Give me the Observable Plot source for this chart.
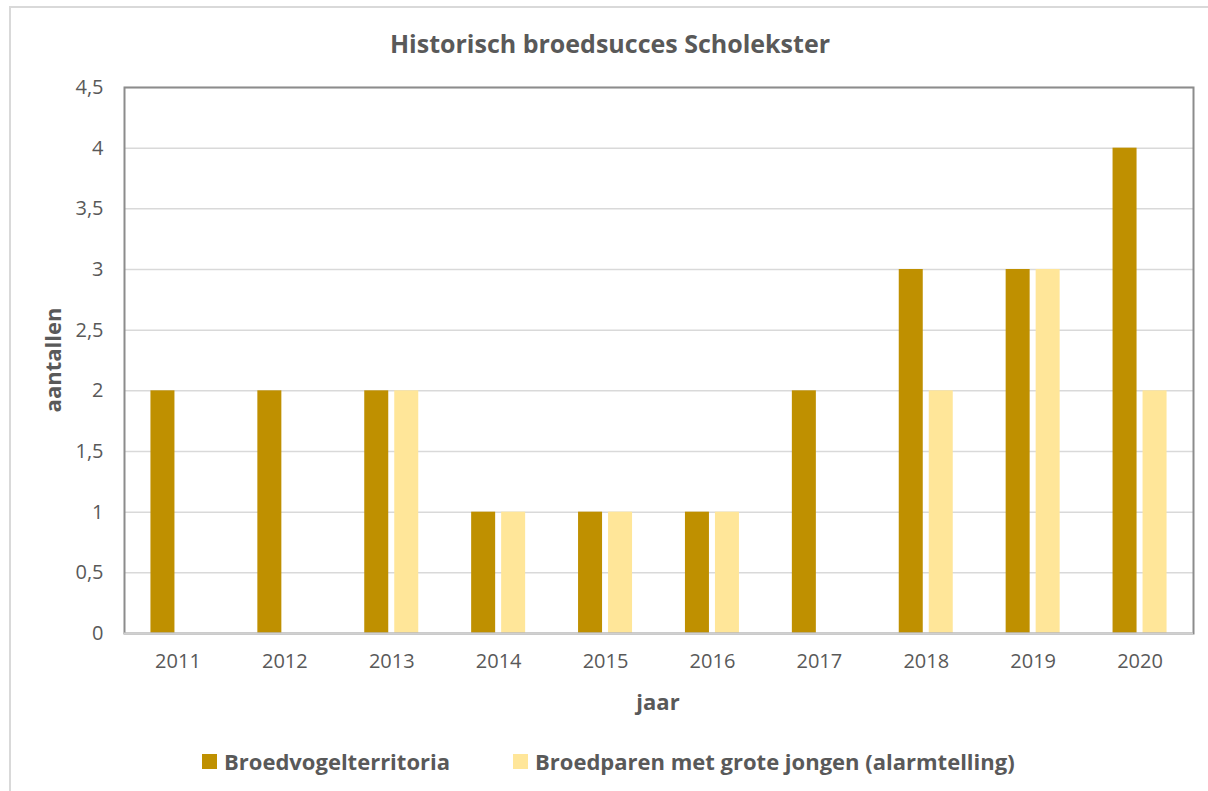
<!DOCTYPE html>
<html>
<head>
<meta charset="utf-8">
<script src="https://cdn.jsdelivr.net/npm/d3@7"></script>
<script src="https://cdn.jsdelivr.net/npm/@observablehq/plot@0.6"></script>
<style>
  html, body { margin: 0; padding: 0; background: #fff; overflow: hidden; }
  body { width: 1208px; height: 791px; position: relative; font-family: "Open Sans", Lato, sans-serif; color: #595959; }
  #box { position: absolute; left: 9px; top: 6px; width: 1220px; height: 800px; border: 2px solid #d9d9d9; box-sizing: border-box; }
  #title { position: absolute; left: 0; width: 1220px; top: 28px; text-align: center; font-weight: bold; font-size: 25px; line-height: 30px; color: #595959; }
  #chart { position: absolute; left: 0; top: 60px; }
  #ylab { position: absolute; left: 52px; top: 360px; transform: translate(-50%, -50%) rotate(-90deg); font-weight: bold; font-size: 22px; white-space: nowrap; }
  #xlab { position: absolute; left: 658px; top: 701px; transform: translate(-50%, -50%); font-weight: bold; font-size: 22px; }
  #legend { position: absolute; top: 747px; left: 202px; display: flex; align-items: center; font-weight: bold; font-size: 22px; line-height: 28px; }
  .sw { display: inline-block; width: 15px; height: 15px; margin-right: 7px; }
  .item { display: flex; align-items: center; }
</style>
</head>
<body>
<div id="box"></div>
<div id="title"></div>
<div id="chart"></div>
<div id="ylab"></div>
<div id="xlab"></div>
<div id="legend"></div>
<script>
const years = ["2011","2012","2013","2014","2015","2016","2017","2018","2019","2020"];
const seriesNames = ["Broedvogelterritoria", "Broedparen met grote jongen (alarmtelling)"];
const territoria = [2, 2, 2, 1, 1, 1, 2, 3, 3, 4];
const broedparen = [0, 0, 2, 1, 1, 1, 0, 2, 3, 2];
const colors = ["#BF9000", "#FFE699"];
const yTicks = [0, 0.5, 1, 1.5, 2, 2.5, 3, 3.5, 4, 4.5];
const titleText = "Historisch broedsucces Scholekster";
const yLabel = "aantallen";
const xLabel = "jaar";

const data = [];
years.forEach((y, i) => {
  data.push({year: y, series: seriesNames[0], value: territoria[i]});
  data.push({year: y, series: seriesNames[1], value: broedparen[i]});
});

document.getElementById("title").textContent = titleText;
document.getElementById("ylab").textContent = yLabel;
document.getElementById("xlab").textContent = xLabel;

const fmt = d => String(d).replace(".", ",");

const plot = Plot.plot({
  width: 1208,
  height: 660,
  marginLeft: 124,
  marginRight: 15,
  marginTop: 27,
  marginBottom: 87,
  style: { fontFamily: "'Open Sans', Lato, sans-serif", fontSize: "20px", color: "#595959", background: "transparent" },
  x: { domain: years, padding: 0, round: false, tickSize: 0, tickPadding: 20, label: null },
  y: { domain: [0, 4.5], ticks: yTicks, tickFormat: fmt, tickSize: 0, tickPadding: 21, label: null },
  color: { domain: seriesNames, range: colors },
  marks: [
    Plot.ruleY(yTicks.filter(d => d > 0), { stroke: "#d9d9d9", strokeWidth: 1.5 }),
    Plot.barY(data.filter(d => d.series === seriesNames[0] && d.value > 0), {
      x: "year", y: "value", fill: "series", insetLeft: 41.45, insetRight: 41.45, dx: -15
    }),
    Plot.barY(data.filter(d => d.series === seriesNames[1] && d.value > 0), {
      x: "year", y: "value", fill: "series", insetLeft: 41.45, insetRight: 41.45, dx: 15
    }),
    Plot.frame({ stroke: "#8c8c8c", strokeWidth: 2 }),
    Plot.ruleY([0], { stroke: "#d0d0d0", strokeWidth: 2 })
  ]
});
document.getElementById("chart").appendChild(plot);

const legend = document.getElementById("legend");
seriesNames.forEach((name, i) => {
  const item = document.createElement("div");
  item.className = "item";
  if (i > 0) item.style.marginLeft = "63px";
  const sw = document.createElement("span");
  sw.className = "sw";
  sw.style.background = colors[i];
  const t = document.createElement("span");
  t.textContent = name;
  item.appendChild(sw);
  item.appendChild(t);
  legend.appendChild(item);
});
</script>
</body>
</html>
